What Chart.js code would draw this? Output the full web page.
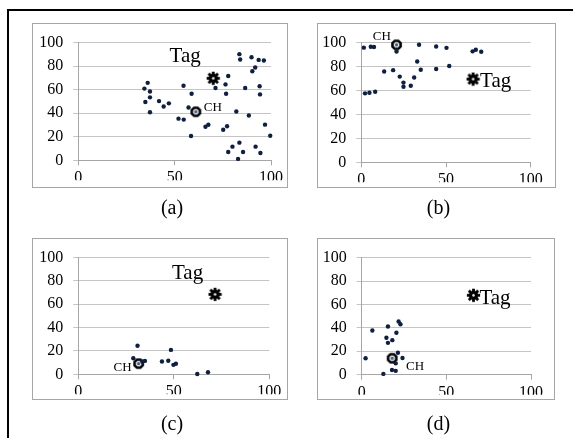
<!DOCTYPE html>
<html><head><meta charset="utf-8">
<script src="https://cdn.jsdelivr.net/npm/chart.js@4.4.1/dist/chart.umd.min.js"></script>
<style>
html,body{margin:0;padding:0;background:#fff;width:573px;height:438px;overflow:hidden;}
.frame{position:absolute;left:7px;top:9px;width:620px;height:520px;border-top:2px solid #000;border-left:2px solid #000;}
.panel{position:absolute;}
.panel canvas{position:absolute;left:0;top:0;}
.box{position:absolute;left:0;top:0;right:0;bottom:0;border:1px solid #a6a6a6;box-sizing:border-box;pointer-events:none;}
.cap{position:absolute;font-family:"Liberation Serif";font-size:20px;line-height:20px;transform:translateX(-50%);white-space:nowrap;color:#000;}
</style></head><body>
<div class="frame"></div>
<div id="root"></div>
<script>
// ---- data ----
const panelA = [[34.3,60.9],[36.0,65.8],[34.8,49.5],[37.2,58.4],[37.2,53.5],[37.2,40.8],[41.9,50.3],[44.3,45.7],[47.0,48.4],[54.6,63.3],[52.0,35.4],[54.7,34.6],[58.8,56.5],[57.2,44.8],[58.5,20.6],[66.0,28.5],[67.5,30.2],[71.2,61.4],[76.4,64.5],[77.8,71.6],[76.7,56.5],[75.2,25.9],[77.2,28.9],[77.8,7.0],[80.0,11.6],[82.0,41.4],[83.6,90.2],[84.0,85.6],[83.6,15.0],[82.9,1.2],[85.5,7.1],[86.6,61.4],[88.5,38.1],[89.9,87.6],[90.3,75.6],[91.8,78.9],[93.6,85.3],[96.3,84.8],[94.1,62.9],[94.3,56.0],[92.0,11.6],[94.5,6.2],[96.9,30.3],[99.6,20.8]];
const panelA_CH = [[61.0,41.2]];
const panelA_Tag = [[70.0,69.7]];

const panelB = [[1.5,95.8],[5.6,96.5],[7.5,96.3],[2.2,57.6],[4.8,58.1],[8.2,59.0],[13.5,75.9],[18.8,77.0],[20.8,92.5],[22.7,71.6],[24.9,66.6],[24.9,63.1],[29.2,64.0],[31.2,70.8],[33.0,84.2],[34.1,98.2],[35.1,77.3],[44.2,96.8],[44.2,77.9],[50.3,95.6],[51.9,80.5],[65.7,92.7],[67.6,94.0],[70.8,92.3]];
const panelB_CH = [[20.8,98.1]];
const panelB_Tag = [[66.0,69.5]];

const panelC = [[31.0,24.5],[28.8,13.8],[34.9,11.5],[33.5,11.0],[43.8,11.0],[47.1,11.6],[48.5,20.9],[49.8,8.1],[51.1,9.1],[62.3,0.2],[67.9,1.8]];
const panelC_CH = [[31.6,9.1]];
const panelC_Tag = [[71.6,68.5]];

const panelD = [[2.3,14.0],[6.3,37.8],[12.8,0.7],[15.5,41.1],[14.6,31.5],[15.5,27.2],[18.1,29.5],[17.9,4.0],[20.1,3.3],[20.5,35.8],[21.8,45.4],[22.9,43.1],[21.4,18.8],[20.1,9.7],[24.1,14.2]];
const panelD_CH = [[18.0,14.1]];
const panelD_Tag = [[66.0,67.8]];

const xTickValues = [0,50,100];
const yTickValues = [0,20,40,60,80,100];
const captions = ['(a)','(b)','(c)','(d)'];
const tagText = 'Tag';
const chText = 'CH';

// ---- layout / style ----
const panels = [
  {pts:panelA, ch:panelA_CH, tag:panelA_Tag, cap:captions[0], box:[32,23,256,165], area:{l:46.3,r:17,t:14.7,b:27.7}, capPos:[172,197],
   tagLbl:{dx:-28,dy:-16.5,align:'center'}, chLbl:{dx:8,dy:-0.5,align:'left'}},
  {pts:panelB, ch:panelB_CH, tag:panelB_Tag, cap:captions[1], box:[317,23,239,165], area:{l:44.3,r:25.3,t:14.7,b:25.7}, capPos:[438.5,196.5],
   tagLbl:{dx:7,dy:8.3,align:'left'}, chLbl:{dx:-14.8,dy:-5.1,align:'center'}},
  {pts:panelC, ch:panelC_CH, tag:panelC_Tag, cap:captions[2], box:[32,238,256,162], area:{l:46.3,r:18.7,t:13.7,b:25.7}, capPos:[172,413],
   tagLbl:{dx:-27.5,dy:-15.3,align:'center'}, chLbl:{dx:-7,dy:7.6,align:'right'}},
  {pts:panelD, ch:panelD_CH, tag:panelD_Tag, cap:captions[3], box:[317,238,238,162], area:{l:44.7,r:24,t:13.7,b:25.3}, capPos:[438.5,413],
   tagLbl:{dx:6,dy:8.7,align:'left'}, chLbl:{dx:13.8,dy:11.6,align:'left'}}
];

function makeGear(){
  const c=document.createElement('canvas'); c.width=15; c.height=15;
  const g=c.getContext('2d'); g.translate(7.5,7.5); g.fillStyle='#000';
  g.beginPath(); g.arc(0,0,4.6,0,Math.PI*2); g.fill();
  for(let i=0;i<8;i++){ g.save(); g.rotate(i*Math.PI/4); g.fillRect(-1.4,-6.6,2.8,3.8); g.restore(); }
  g.fillStyle='#fff'; g.beginPath(); g.arc(0,0,1.3,0,Math.PI*2); g.fill();
  return c;
}
function makeCH(){
  const c=document.createElement('canvas'); c.width=15; c.height=15;
  const g=c.getContext('2d'); g.translate(7.5,7.5);
  g.beginPath();
  for(let i=0;i<8;i++){ const a=i*Math.PI/4+Math.PI/8; const px=4.4*Math.cos(a), py=4.4*Math.sin(a); if(i===0) g.moveTo(px,py); else g.lineTo(px,py);} 
  g.closePath(); g.fillStyle='#fff'; g.fill(); g.lineWidth=2.6; g.strokeStyle='#000'; g.stroke();
  g.fillStyle='#3f5f8a'; g.beginPath(); g.arc(0,0,1.7,0,Math.PI*2); g.fill();
  return c;
}
const gearImg = makeGear();
const chImg = makeCH();
const dotColor = '#0f1f3f';
const tickFont = {family:'Liberation Serif', size:16};

const root = document.getElementById('root');
panels.forEach(p=>{
  const [bx,by,bw,bh] = p.box;
  const wrap = document.createElement('div'); wrap.className='panel';
  wrap.style.left=bx+'px'; wrap.style.top=by+'px'; wrap.style.width=bw+'px'; wrap.style.height=bh+'px';
  const cv = document.createElement('canvas'); cv.width=bw; cv.height=bh; cv.style.width=bw+'px'; cv.style.height=bh+'px';
  wrap.appendChild(cv);
  const bd = document.createElement('div'); bd.className='box'; wrap.appendChild(bd);
  root.appendChild(wrap);
  const cap = document.createElement('div'); cap.className='cap'; cap.textContent=p.cap;
  cap.style.left=p.capPos[0]+'px'; cap.style.top=p.capPos[1]+'px'; root.appendChild(cap);

  const Y_W = 40, X_H = 20;
  const labelPlugin = {
    id:'ptLabels',
    afterDatasetsDraw(chart){
      const ctx=chart.ctx, xs=chart.scales.x, ys=chart.scales.y;
      const items=[
        {pt:p.tag[0], text:tagText, font:'21px "Liberation Serif"', o:p.tagLbl},
        {pt:p.ch[0], text:chText, font:'13px "Liberation Serif"', o:p.chLbl}
      ];
      items.forEach(it=>{
        const px=xs.getPixelForValue(it.pt[0]), py=ys.getPixelForValue(it.pt[1]);
        ctx.save(); ctx.font=it.font; ctx.fillStyle='#000'; ctx.textAlign=it.o.align; ctx.textBaseline='alphabetic';
        ctx.fillText(it.text, px+it.o.dx, py+it.o.dy); ctx.restore();
      });
    }
  };
  new Chart(cv, {
    type:'scatter',
    data:{datasets:[
      {data:p.pts.map(d=>({x:d[0],y:d[1]})), pointRadius:2.2, pointBackgroundColor:dotColor, pointBorderWidth:0, clip:false},
      {data:p.ch.map(d=>({x:d[0],y:d[1]})), pointStyle:chImg, pointRadius:6, clip:false},
      {data:p.tag.map(d=>({x:d[0],y:d[1]})), pointStyle:gearImg, pointRadius:6, clip:false}
    ]},
    options:{
      responsive:false, animation:false, events:[],
      layout:{padding:{left:p.area.l-Y_W, right:p.area.r, top:p.area.t, bottom:p.area.b-X_H}},
      plugins:{legend:{display:false}, tooltip:{enabled:false}},
      scales:{
        x:{type:'linear', min:0, max:100,
           afterBuildTicks:s=>{s.ticks=xTickValues.map(v=>({value:v}));},
           afterFit:s=>{s.height=X_H;},
           grid:{drawOnChartArea:false, drawTicks:true, tickLength:5, color:'#a6a6a6'},
           border:{display:true, color:'#a6a6a6'},
           ticks:{padding:3, font:tickFont, color:'#000', maxRotation:0, autoSkip:false}},
        y:{type:'linear', min:0, max:100,
           afterBuildTicks:s=>{s.ticks=yTickValues.map(v=>({value:v}));},
           afterFit:s=>{s.width=Y_W;},
           grid:{drawOnChartArea:true, drawTicks:true, tickLength:5, color:'#c4c4c4'},
           border:{display:true, color:'#a6a6a6'},
           ticks:{padding:10, font:tickFont, color:'#000', autoSkip:false}}
      }
    },
    plugins:[labelPlugin]
  });
});
</script>
</body></html>
